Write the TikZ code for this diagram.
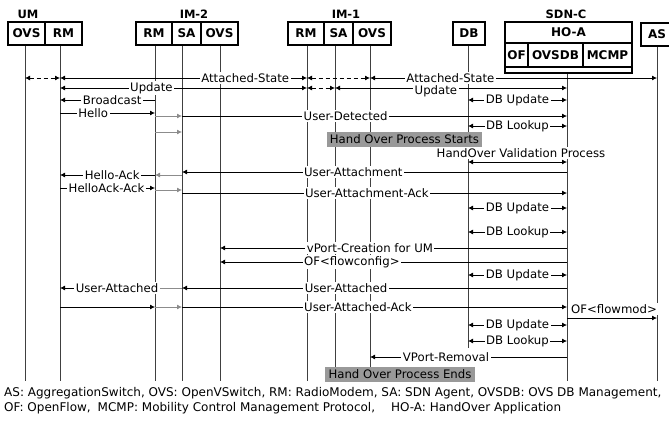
\documentclass[tikz,border=0pt]{standalone}
\usepackage{fontspec}
\setmainfont{DejaVu Sans}
\usetikzlibrary{arrows.meta}
\begin{document}
\begin{tikzpicture}[x=1pt,y=-1pt,
  cell/.style={draw,fill=white,line width=1.6pt,minimum height=23pt,inner sep=0pt,font=\bfseries\fontsize{12}{14}\selectfont},
  grp/.style={inner sep=0pt,font=\bfseries\fontsize{11.5}{13}\selectfont},
  life/.style={black!75,line width=1pt},
  msg/.style={line width=0.8pt,-{Latex[length=5pt,width=5pt]}},
  both/.style={line width=0.8pt,{Latex[length=5pt,width=5pt]}-{Latex[length=5pt,width=5pt]}},
  dsh/.style={dash pattern=on 4pt off 3pt},
  relay/.style={msg,black!45},
  lbl/.style={fill=white,inner sep=1.5pt,font=\fontsize{11.7}{13}\selectfont},
  hobox/.style={fill=black!40,minimum width=155pt,minimum height=15pt,inner sep=0pt,font=\fontsize{11.7}{13}\selectfont},
  foot/.style={anchor=west,inner sep=0pt,font=\fontsize{12}{14}\selectfont}
]
\useasboundingbox (0,0) rectangle (669,421);

% lifeline coordinates
\coordinate (Lumovs) at (25,45);   \coordinate (Eumovs) at (25,381);
\coordinate (Lumrm)  at (60,45);   \coordinate (Eumrm)  at (60,381);
\coordinate (Li2rm)  at (155,45);  \coordinate (Ei2rm)  at (155,381);
\coordinate (Li2sa)  at (182,45);  \coordinate (Ei2sa)  at (182,381);
\coordinate (Li2ovs) at (220,45);  \coordinate (Ei2ovs) at (220,381);
\coordinate (Li1rm)  at (307,45);  \coordinate (Ei1rm)  at (307,381);
\coordinate (Li1sa)  at (335,45);  \coordinate (Ei1sa)  at (335,381);
\coordinate (Li1ovs) at (370,45);  \coordinate (Ei1ovs) at (370,381);
\coordinate (Ldb)    at (468,45);  \coordinate (Edb)    at (468,348);
\coordinate (Lsdn)   at (567,73);  \coordinate (Esdn)   at (567,381);
\coordinate (Las)    at (657,46);  \coordinate (Eas)    at (657,381);

\foreach \n in {umovs,umrm,i2rm,i2sa,i2ovs,i1rm,i1sa,i1ovs,db,sdn,as}
  \draw[life] (L\n) -- (E\n);

% headers
\node[grp] (gum) at (28,14) {UM};
\node[grp] (gim2) at (194,14) {IM-2};
\node[grp] (gim1) at (346,14) {IM-1};
\node[grp] (gsdn) at (566,14) {SDN-C};

\node[cell,minimum width=37pt] (umA) at (26.5,33.5) {OVS};
\node[cell,minimum width=37pt] (umB) at (63.5,33.5) {RM};
\node[cell,minimum width=36pt] (i2A) at (154,33.5) {RM};
\node[cell,minimum width=29pt] (i2B) at (186.5,33.5) {SA};
\node[cell,minimum width=37pt] (i2C) at (219.5,33.5) {OVS};
\node[cell,minimum width=36pt] (i1A) at (306,33.5) {RM};
\node[cell,minimum width=29pt] (i1B) at (338.5,33.5) {SA};
\node[cell,minimum width=38pt] (i1C) at (372,33.5) {OVS};
\node[cell,minimum width=32pt] (dbA) at (469,33.5) {DB};
\node[cell,minimum width=32pt] (asA) at (657,34.5) {AS};

\node[cell,minimum width=127pt,minimum height=51pt] (sdnc) at (568.5,47.5) {};
\node[cell,minimum width=127pt,minimum height=21pt] (hoa) at (568.5,32.5) {HO-A};
\node[cell,minimum width=23pt,minimum height=24pt] (of) at (516.5,55) {OF};
\node[cell,minimum width=55pt,minimum height=24pt] (ovsdb) at (555.5,55) {OVSDB};
\node[cell,minimum width=49pt,minimum height=24pt] (mcmp) at (607.5,55) {MCMP};

% row 78
\draw[both,dsh] (Lumovs |- 0,78) -- (Lumrm |- 0,78);
\draw[both] (Lumrm |- 0,78) -- (Li1rm |- 0,78) node[lbl,pos=0.75] (m1) {Attached-State};
\draw[both,dsh] (Li1rm |- 0,78) -- (Li1ovs |- 0,78);
\draw[both] (Li1ovs |- 0,78) -- (Las |- 0,78) node[lbl,pos=0.28] (m2) {Attached-State};
% row 88
\draw[both] (Lumrm |- 0,88) -- (Li1rm |- 0,88) node[lbl,pos=0.37] (m3) {Update};
\draw[both,dsh] (Li1rm |- 0,88) -- (Li1sa |- 0,88);
\draw[both] (Li1sa |- 0,88) -- (Lsdn |- 0,88) node[lbl,pos=0.435,yshift=-3pt] (m4) {Update};
% row 100
\draw[msg] (Li2rm |- 0,100) -- (Lumrm |- 0,100) node[lbl,pos=0.45] (m5) {Broadcast};
\draw[both] (Ldb |- 0,100) -- (Lsdn |- 0,100) node[lbl,pos=0.5] (m6) {DB Update};
% hello
\draw[msg] (Lumrm |- 0,113) -- (Li2rm |- 0,113) node[lbl,pos=0.35] (m7) {Hello};
\draw[relay] (Li2rm |- 0,116) -- (Li2sa |- 0,116);
\draw[msg] (Li2sa |- 0,116) -- (Lsdn |- 0,116) node[lbl,pos=0.425] (m8) {User-Detected};
\draw[both] (Ldb |- 0,126) -- (Lsdn |- 0,126) node[lbl,pos=0.5] (m9) {DB Lookup};
\draw[relay] (Li2rm |- 0,132) -- (Li2sa |- 0,132);
\node[hobox] (hos) at (404.5,139.5) {Hand Over Process Starts};
\node[lbl] (hov) at (521,153) {HandOver Validation Process};
\draw[both] (Ldb |- 0,162) -- (Lsdn |- 0,162);
% attachment
\draw[msg] (Lsdn |- 0,172) -- (Li2sa |- 0,172) node[lbl,pos=0.555] (m10) {User-Attachment};
\draw[relay] (Li2sa |- 0,175) -- (Li2rm |- 0,175);
\draw[msg] (Li2rm |- 0,175) -- (Lumrm |- 0,175) node[lbl,pos=0.45] (m11) {Hello-Ack};
\draw[msg] (Lumrm |- 0,188) -- (Li2rm |- 0,188) node[lbl,pos=0.49] (m12) {HelloAck-Ack};
\draw[relay] (Li2rm |- 0,190) -- (Li2sa |- 0,190);
\draw[msg] (Li2sa |- 0,193) -- (Lsdn |- 0,193) node[lbl,pos=0.48] (m13) {User-Attachment-Ack};
\draw[both] (Ldb |- 0,208) -- (Lsdn |- 0,208) node[lbl,pos=0.5] (m14) {DB Update};
\draw[both] (Ldb |- 0,232) -- (Lsdn |- 0,232) node[lbl,pos=0.5] (m15) {DB Lookup};
\draw[msg] (Lsdn |- 0,248) -- (Li2ovs |- 0,248) node[lbl,pos=0.568] (m16) {vPort-Creation for UM};
\draw[msg] (Lsdn |- 0,262) -- (Li2ovs |- 0,262) node[lbl,pos=0.62] (m17) {OF<flowconfig>};
\draw[both] (Ldb |- 0,275) -- (Lsdn |- 0,275) node[lbl,pos=0.5] (m18) {DB Update};
% attached
\draw[msg] (Lsdn |- 0,288) -- (Li2sa |- 0,288) node[lbl,pos=0.574] (m19) {User-Attached};
\draw[line width=0.8pt,black!45] (Li2sa |- 0,288) -- (Li2rm |- 0,288);
\draw[msg] (Li2rm |- 0,288) -- (Lumrm |- 0,288);
\node[lbl] (m20) at (117,288) {User-Attached};
\draw[msg] (Lumrm |- 0,307) -- (Li2rm |- 0,307);
\draw[relay] (Li2rm |- 0,307) -- (Li2sa |- 0,307);
\draw[msg] (Li2sa |- 0,307) -- (Lsdn |- 0,307) node[lbl,pos=0.457] (m21) {User-Attached-Ack};
\draw[msg] (Lsdn |- 0,318) -- (Las |- 0,318);
\node[lbl] (m22) at (614,309) {OF<flowmod>};
\draw[both] (Ldb |- 0,325) -- (Lsdn |- 0,325) node[lbl,pos=0.5] (m23) {DB Update};
\draw[both] (Ldb |- 0,341) -- (Lsdn |- 0,341) node[lbl,pos=0.5] (m24) {DB Lookup};
\draw[msg] (Lsdn |- 0,357) -- (Li1ovs |- 0,357) node[lbl,pos=0.614] (m25) {VPort-Removal};
\node[hobox,minimum width=150pt] (hoe) at (400,374.5) {Hand Over Process Ends};

% footer
\node[foot] (f1) at (4,393) {AS: AggregationSwitch, OVS: OpenVSwitch, RM: RadioModem, SA: SDN Agent, OVSDB: OVS DB Management,};
\node[foot] (f2) at (4,408) {OF: OpenFlow,\hspace{7pt}MCMP: Mobility Control Management Protocol,\hspace{16pt}HO-A: HandOver Application};
\end{tikzpicture}
\end{document}
